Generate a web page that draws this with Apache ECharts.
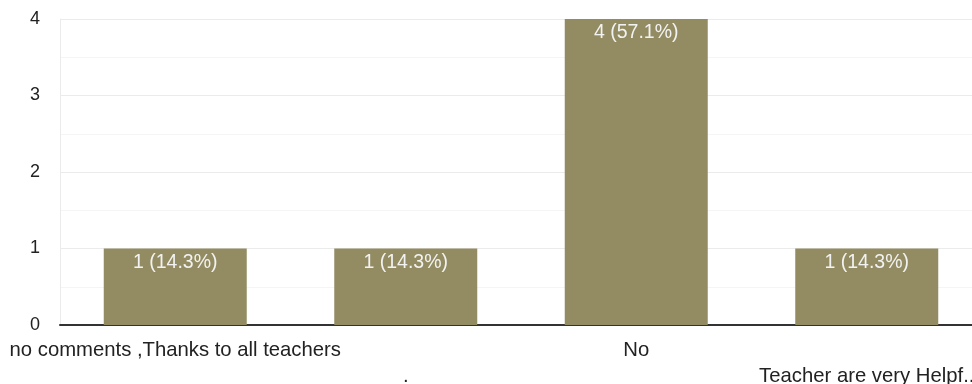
<!DOCTYPE html>
<html><head><meta charset="utf-8">
<script src="https://cdn.jsdelivr.net/npm/echarts@6/dist/echarts.min.js"></script>
<style>html,body{margin:0;padding:0;background:#fff;overflow:hidden}#c{width:982px;height:384px}</style>
</head><body><div id="c"></div>
<script>
const categories = ["no comments ,Thanks to all teachers", ".", "No", "Teacher are very Helpf.."];
const counts = [1, 1, 4, 1];
const percents = ["14.3%", "14.3%", "57.1%", "14.3%"];
const yTicks = [0, 1, 2, 3, 4];

const chart = echarts.init(document.getElementById('c'));
chart.setOption({
  animation: false,
  textStyle: { fontFamily: 'Liberation Sans, Arial, sans-serif' },
  grid: { left: 60, top: 19, right: 0, bottom: 59, containLabel: false, outerBoundsMode: 'none' },
  xAxis: {
    type: 'category', data: categories,
    axisLine: { lineStyle: { color: '#333', width: 2 } },
    axisTick: { show: false },
    axisLabel: {
      interval: 0, color: '#222', fontSize: 20.3, margin: 12, lineHeight: 26,
      formatter: (v, i) => (i % 2 ? '\n' + v : v)
    }
  },
  yAxis: {
    type: 'value', min: yTicks[0], max: yTicks[yTicks.length - 1], interval: 1,
    axisLine: { show: true, lineStyle: { color: '#ebebeb' } },
    axisTick: { show: false },
    axisLabel: { color: '#222', fontSize: 18, margin: 20 },
    splitLine: { lineStyle: { color: '#ebebeb', width: 1 } },
    minorTick: { show: false, splitNumber: 2 },
    minorSplitLine: { show: true, lineStyle: { color: '#f5f5f5', width: 1 } }
  },
  series: [{
    type: 'bar', data: counts, barWidth: 143,
    itemStyle: { color: '#938c63' },
    label: {
      show: true, position: 'insideTop', distance: 4, color: '#f2f2f2', fontSize: 19.5,
      formatter: p => p.value + ' (' + percents[p.dataIndex] + ')'
    }
  }]
});
</script></body></html>
